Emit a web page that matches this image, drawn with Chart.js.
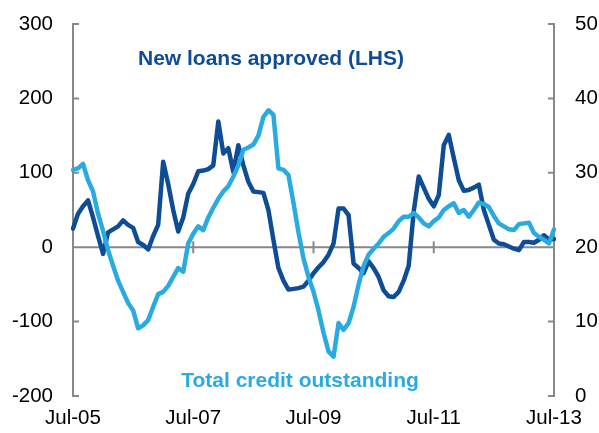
<!DOCTYPE html>
<html>
<head>
<meta charset="utf-8">
<script src="https://cdn.jsdelivr.net/npm/chart.js@4.4.1/dist/chart.umd.min.js"></script>
<style>
  html, body { margin: 0; padding: 0; background: #fff; }
  canvas { display: block; }
</style>
</head>
<body>
<canvas id="myChart" width="599" height="433"></canvas>
<script>
// monthly categories, Jul-05 .. Jul-13
var monthNames = ['Jan','Feb','Mar','Apr','May','Jun','Jul','Aug','Sep','Oct','Nov','Dec'];
var months = [];
for (var i = 0; i <= 96; i++) {
  var mIdx = (6 + i) % 12;
  var yr = 5 + Math.floor((6 + i) / 12);
  months.push(monthNames[mIdx] + '-' + ('0' + yr).slice(-2));
}
var tickLabels = ['Jul-05', 'Jul-07', 'Jul-09', 'Jul-11', 'Jul-13'];

// New loans approved (LHS)
var newLoans = [
  25, 45, 55, 63, 40, 15, -9, 20, 24, 28, 36, 30,
  26, 7, 3, -3, 15, 30, 115, 85, 50, 21, 40, 72,
  85, 102, 103, 105, 110, 169, 126, 133, 101, 137, 110, 88,
  75, 74, 73, 50, 10, -28, -45, -57, -56, -55, -53, -45,
  -35, -27, -20, -10, 5, 52, 52, 43, -22, -28, -35, -19,
  -28, -40, -58, -66, -67, -60, -45, -25, 48, 95, 80, 65,
  55, 70, 137, 151, 120, 90, 76, 77, 80, 84, 50, 30,
  10, 5, 4, 1, -2, -4, 7, 7, 6, 10, 16, 10,
  11
];

// Total credit outstanding (RHS)
var totalCredit = [
  30.4, 30.6, 31.2, 29.0, 27.5, 24.5, 22.2, 19.6, 17.5, 15.5, 14.0, 12.5,
  11.5, 9.1, 9.5, 10.2, 12.0, 13.7, 14.0, 14.8, 16.0, 17.2, 16.7, 20.5,
  21.8, 22.8, 22.3, 24.0, 25.3, 26.5, 27.5, 28.2, 29.5, 31.0, 33.1, 33.4,
  33.8, 35.0, 37.5, 38.4, 37.8, 30.6, 30.4, 29.7, 26.0, 22.0, 18.5, 16.0,
  14.0, 11.5, 8.5, 6.0, 5.3, 9.8, 8.9, 9.8, 12.0, 15.0, 17.5, 19.0,
  19.8, 20.5, 21.4, 21.9, 22.5, 23.5, 24.1, 24.1, 24.6, 24.0, 23.2, 22.8,
  23.5, 24.0, 25.0, 25.5, 25.9, 24.6, 25.0, 24.1, 25.0, 26.0, 25.8, 25.4,
  24.2, 23.2, 22.8, 22.4, 22.3, 23.1, 23.2, 23.3, 21.9, 21.4, 21.0, 20.5,
  22.4
];

var darkBlue = '#0e4c96';
var lightBlue = '#29abe2';
var axisGrey = '#888888';
var fontFam = '"Liberation Sans", Arial, sans-serif';

var axisMarks = {
  id: 'axisMarks',
  beforeDatasetsDraw: function(chart) {
    var ctx = chart.ctx, area = chart.chartArea;
    var x = chart.scales.x, y = chart.scales.y, y1 = chart.scales.y1;
    ctx.save();
    ctx.strokeStyle = axisGrey;
    ctx.lineWidth = 2;
    var y0 = y.getPixelForValue(0);
    ctx.beginPath();
    ctx.moveTo(area.left, y0);
    ctx.lineTo(area.right, y0);
    tickLabels.forEach(function(l) {
      var px = x.getPixelForValue(months.indexOf(l));
      ctx.moveTo(px, y0 - 6);
      ctx.lineTo(px, y0 + 6);
    });
    y.ticks.forEach(function(t) {
      var py = y.getPixelForValue(t.value);
      ctx.moveTo(area.left, py);
      ctx.lineTo(area.left + 6, py);
    });
    y1.ticks.forEach(function(t) {
      var py = y1.getPixelForValue(t.value);
      ctx.moveTo(area.right, py);
      ctx.lineTo(area.right - 6, py);
    });
    ctx.stroke();
    ctx.restore();
  },
  afterDraw: function(chart) {
    var ctx = chart.ctx;
    ctx.save();
    ctx.font = 'bold 21px ' + fontFam;
    ctx.textAlign = 'center';
    ctx.textBaseline = 'alphabetic';
    ctx.fillStyle = darkBlue;
    ctx.fillText('New loans approved (LHS)', 271, 65);
    ctx.fillStyle = lightBlue;
    ctx.fillText('Total credit outstanding', 300, 387);
    ctx.restore();
  }
};

var tickFont = { family: fontFam, size: 20.5 };

function fitY(w) {
  return function(s) {
    s.width = w;
    s.paddingTop = 0;
    s.paddingBottom = 0;
  };
}

var ctx = document.getElementById('myChart');
var myChart = new Chart(ctx, {
  type: 'line',
  data: {
    labels: months,
    datasets: [{
      label: 'Total credit outstanding',
      data: totalCredit,
      yAxisID: 'y1',
      borderColor: lightBlue,
      borderWidth: 4.5,
      fill: false
    }, {
      label: 'New loans approved (LHS)',
      data: newLoans,
      yAxisID: 'y',
      borderColor: darkBlue,
      borderWidth: 4.5,
      fill: false
    }]
  },
  options: {
    responsive: false,
    animation: false,
    layout: { padding: { top: 24, left: 0, right: 0, bottom: 0 } },
    plugins: { legend: { display: false }, tooltip: { enabled: false } },
    elements: {
      point: { radius: 0 },
      line: { tension: 0, borderJoinStyle: 'round', borderCapStyle: 'round' }
    },
    scales: {
      x: {
        type: 'category',
        offset: false,
        grid: { display: false, drawTicks: false },
        border: { display: false },
        ticks: {
          autoSkip: false, maxRotation: 0, minRotation: 0, padding: 10,
          color: '#000', font: tickFont,
          callback: function(v) {
            var l = this.getLabelForValue(v);
            return tickLabels.indexOf(l) >= 0 ? l : '';
          }
        },
        afterFit: function(s) { s.height = 37; }
      },
      y: {
        position: 'left',
        min: -200, max: 300,
        grid: { display: false, drawTicks: false },
        border: { display: true, color: axisGrey, width: 2 },
        ticks: { stepSize: 100, padding: 20, color: '#000', font: tickFont },
        afterFit: fitY(73)
      },
      y1: {
        position: 'right',
        min: 0, max: 50,
        grid: { display: false, drawTicks: false },
        border: { display: true, color: axisGrey, width: 2 },
        ticks: { stepSize: 10, padding: 21, color: '#000', font: tickFont },
        afterFit: fitY(45)
      }
    }
  },
  plugins: [axisMarks]
});
</script>
</body>
</html>
